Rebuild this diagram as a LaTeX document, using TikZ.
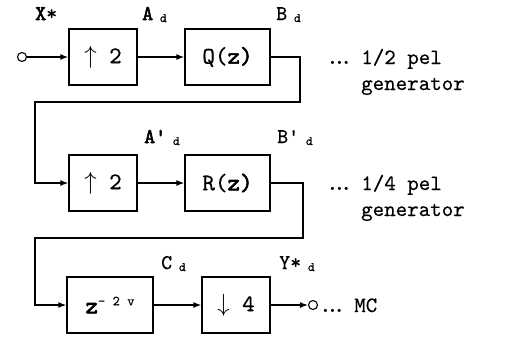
\documentclass[tikz,border=0pt]{standalone}
\usepackage{fontspec}
\usetikzlibrary{arrows.meta}
\newfontfamily\ttbold{lmmono10-regular.otf}[FakeBold=2.5]
\newfontfamily\ttreg{lmmono10-regular.otf}[FakeBold=0.4]
\newcommand\dsub{\raisebox{-2bp}{\fontsize{13}{13}\selectfont\ d}}
\newcommand\dotsrm{{\rmfamily\bfseries ...}}
\tikzset{
  blk/.style={draw, line width=1.3pt, minimum height=56bp, inner sep=0pt,
              font=\fontsize{24}{26}\selectfont\ttreg},
  conn/.style={line width=1.3pt},
  arr/.style={conn, -{Latex[length=8bp,width=6bp]}},
  port/.style={circle, draw, line width=1.1pt, minimum size=9bp, inner sep=0pt},
  lbl/.style={font=\fontsize{21}{22}\selectfont\ttreg, inner sep=0pt, anchor=base west},
  side/.style={font=\fontsize{22}{24}\selectfont\ttreg, anchor=base west, inner sep=0pt}
}
\begin{document}
\begin{tikzpicture}[x=1bp,y=-1bp]
\useasboundingbox (0,0) rectangle (505,337);
% row 1
\node[port] (in) at (22,57) {};
\node[blk, minimum width=68bp] (up1) at (103,57) {$\uparrow$ 2};
\node[blk, minimum width=85bp] (Q) at (227.5,57) {Q(\ttbold z)};
% row 2
\node[blk, minimum width=68bp] (up2) at (103,183) {$\uparrow$ 2};
\node[blk, minimum width=85bp] (R) at (227.5,183) {R(\ttbold z)};
% row 3
\node[blk, minimum width=86bp] (zd) at (110,305) {{\ttbold z}\raisebox{8bp}{\fontsize{14}{14}\selectfont - 2 v}};
\node[blk, minimum width=68bp] (dn) at (236,305) {$\downarrow$ 4};
\node[port] (out) at (313,305) {};
% corner points
\coordinate (t1) at (300,102);
\coordinate (l1) at (35,102);
\coordinate (t2) at (303,238);
\coordinate (l2) at (35,238);
% connectors
\draw[arr] (in) -- (up1);
\draw[arr] (up1) -- (Q);
\draw[arr] (Q.east) -| (t1) -- (l1) |- (up2.west);
\draw[arr] (up2) -- (R);
\draw[arr] (R.east) -| (t2) -- (l2) |- (zd.west);
\draw[arr] (zd) -- (dn);
\draw[arr] (dn) -- (out);
% signal labels
\node[lbl] (lx) at (35,20) {{\ttbold X}*};
\node[lbl] (la) at (142,20) {{\ttbold A}\dsub};
\node[lbl] (lb) at (276,20) {B\dsub};
\node[lbl] (la2) at (144,143) {{\ttbold A'}\dsub};
\node[lbl] (lb2) at (277,143) {B'\dsub};
\node[lbl] (lc) at (161,269) {C\dsub};
\node[lbl] (ly) at (279,269) {Y*\dsub};
% side texts
\node[side] (s1) at (329,64) {\dotsrm\ 1/2 pel};
\node[side] (g1) at (361,90) {generator};
\node[side] (s2) at (329,190) {\dotsrm\ 1/4 pel};
\node[side] (g2) at (361,216) {generator};
\node[side] (mc) at (322,312) {\dotsrm\ MC};
\end{tikzpicture}
\end{document}
